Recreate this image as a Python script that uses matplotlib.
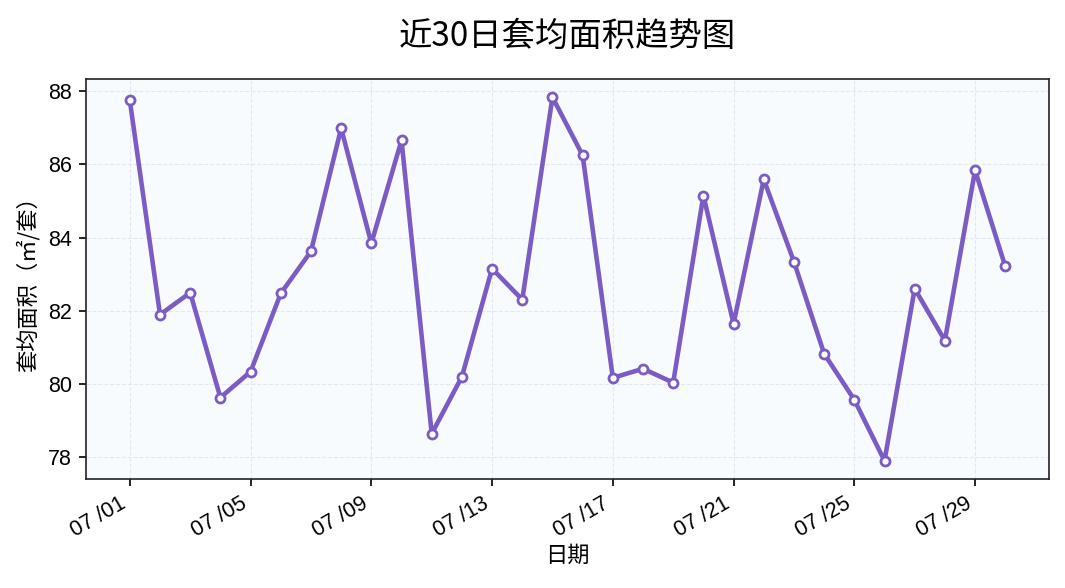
import matplotlib
matplotlib.use("Agg")
import matplotlib.pyplot as plt
import matplotlib.dates as mdates
import numpy as np
import pandas as pd

# daily average area per unit, 07/01 .. 07/30
dates = pd.date_range("2024-07-01", periods=30, freq="D")
avg_area = [87.75, 81.89, 82.49, 79.62, 80.33, 82.47, 83.62, 86.99, 83.84, 86.66,
            78.63, 80.19, 83.15, 82.30, 87.84, 86.25, 80.16, 80.41, 80.03, 85.15,
            81.64, 85.59, 83.34, 80.82, 79.56, 77.89, 82.60, 81.18, 85.84, 83.21]

plt.rcParams['font.family'] = ['Liberation Sans', 'Noto Sans CJK SC', 'DejaVu Sans']
plt.rcParams['axes.unicode_minus'] = False

fig = plt.figure(figsize=(10.65, 5.88), dpi=100)
ax = fig.add_axes([0.0808, 0.1854, 0.9042, 0.6802])
ax.set_facecolor('#f8fbfe')

ax.plot(dates, avg_area, color='#7b5cc4', linewidth=3.3, marker='o',
        markersize=6.5, markerfacecolor='white', markeredgecolor='#7b5cc4',
        markeredgewidth=2)

ax.grid(True, linestyle='--', color='#dfe3ee', linewidth=0.8, alpha=0.8)
ax.set_axisbelow(True)

ax.xaxis.set_major_locator(mdates.DayLocator(bymonthday=[1, 5, 9, 13, 17, 21, 25, 29]))
ax.xaxis.set_major_formatter(mdates.DateFormatter('%m /%d'))
plt.setp(ax.get_xticklabels(), rotation=30, ha='right')
ax.tick_params(labelsize=15.5, width=1.2, length=5, pad=5)
for s in ax.spines.values():
    s.set_linewidth(1.2)
    s.set_color('#222222')

cjk = ['Noto Sans CJK SC', 'DejaVu Sans']
ax.set_xlabel('日期', fontsize=16, family=cjk, labelpad=2)
ax.set_ylabel('套均面积（㎡/套）', fontsize=16, family=cjk, labelpad=6)
ax.set_title('近30日套均面积趋势图', fontsize=24, pad=24, family=cjk)

fig.savefig('out.png', dpi=100)
